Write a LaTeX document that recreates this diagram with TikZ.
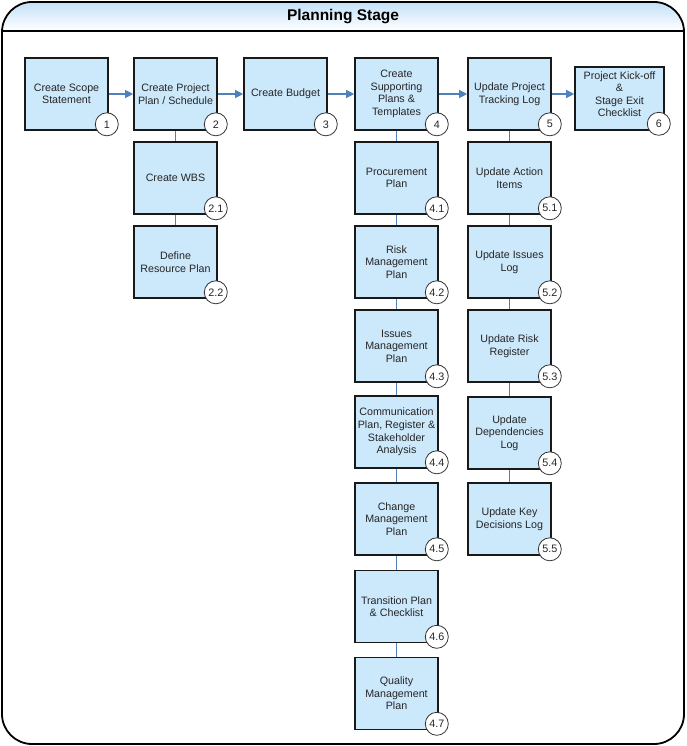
\documentclass[tikz,border=0pt]{standalone}
\usepackage{fontspec}
\setmainfont{Liberation Sans}
\usetikzlibrary{arrows.meta}
\definecolor{taskfill}{RGB}{204,232,251}
\definecolor{linkblue}{RGB}{79,129,189}
\definecolor{headblue}{RGB}{196,224,247}
\tikzset{task/.style = {draw = black!90, line width = 1.6pt, fill = taskfill, text = black!85,
    minimum width = 83pt, minimum height = 72pt, inner sep = 0, align = center,
    font = \fontsize{10.7}{12.6}\selectfont}}
\tikzset{num/.style = {circle, draw = black!80, line width = 0.8pt, fill = white, text = black!85,
    minimum size = 23pt, inner sep = 0, font = \fontsize{10.8}{12}\selectfont}}
\tikzset{link/.style = {draw = linkblue, line width = 1.2pt}}
\tikzset{flow/.style = {link, -{Triangle[length = 8pt, width = 8pt]}}}

\begin{document}
\begin{tikzpicture}[x=1pt, y=-1pt]
      \useasboundingbox (0, 0) rectangle (686, 746);
      \begin{scope}
        \clip [rounded corners = 30pt] (2, 2) rectangle (684, 744);
        \shade [top color = headblue, bottom color = white] (2, 2) rectangle (684, 31);
      \end{scope}
      \draw [line width = 1.6pt] (2, 31) -- (684, 31);
      \draw [line width = 1.8pt, rounded corners = 30pt] (2, 2) rectangle (684, 744);
      \node [font = \bfseries\fontsize{15.5}{18}\selectfont] (title) at (343, 16.5) {Planning Stage};
      % main row
      \node [task] (s1) at (66.5, 94) {Create Scope\\Statement};
      \node [task] (s2) at (175.5, 94) {Create Project\\Plan / Schedule};
      \node [task] (s3) at (285.5, 94) {Create Budget};
      \node [task] (s4) at (396.5, 94) {Create\\Supporting\\Plans \&\\Templates};
      \node [task] (s5) at (509.5, 94) {Update Project\\Tracking Log};
      \node [task, minimum width = 89pt, minimum height = 63pt] (s6) at (619.5, 98.5)
        {Project Kick-off\\\&\\Stage Exit\\Checklist\\[-4pt]};
      % sub steps
      \node [task] (s21) at (175.5, 178) {Create WBS};
      \node [task] (s22) at (175.5, 262) {Define\\Resource Plan};
      \node [task] (s41) at (396.5, 178) {Procurement\\Plan};
      \node [task] (s42) at (396.5, 262) {Risk\\Management\\Plan};
      \node [task] (s43) at (396.5, 346) {Issues\\Management\\Plan};
      \node [task] (s44) at (396.5, 432) {Communication\\Plan, Register \&\\Stakeholder\\Analysis};
      \node [task] (s45) at (396.5, 519) {Change\\Management\\Plan};
      \node [task] (s46) at (396.5, 606.5) {Transition Plan\\\& Checklist};
      \node [task] (s47) at (396.5, 693.5) {Quality\\Management\\Plan};
      \node [task] (s51) at (509.5, 178) {Update Action\\Items};
      \node [task] (s52) at (509.5, 262) {Update Issues\\Log};
      \node [task] (s53) at (509.5, 346) {Update Risk\\Register};
      \node [task] (s54) at (509.5, 433) {Update\\Dependencies\\Log};
      \node [task] (s55) at (509.5, 519) {Update Key\\Decisions Log};
      % connectors
      \foreach \a/\b in {s1/s2, s2/s3, s3/s4, s4/s5} {
        \draw [flow] (\a) -- (\b);
      }
      \draw [flow] (s5.east) -- (s5.east -| s6.west);
      \foreach \a/\b in {s2/s21, s21/s22, s4/s41, s41/s42, s42/s43, s43/s44, s44/s45, s45/s46, s46/s47,
                         s5/s51, s51/s52, s52/s53, s53/s54, s54/s55} {
        \draw [link] (\a.south) -- (\b.north);
      }
      % step numbers
      \foreach \s/\n in {s1/1, s2/2, s3/3, s4/4, s5/5, s21/2.1, s22/2.2, s41/4.1, s42/4.2, s43/4.3,
                         s44/4.4, s45/4.5, s46/4.6, s47/4.7, s51/5.1, s52/5.2, s53/5.3, s54/5.4, s55/5.5} {
        \node [num, xshift = -2pt, yshift = 6.5pt] (n\s) at (\s.south east) {\n};
      }
      \node [num, xshift = -6pt, yshift = 7pt] (ns6) at (s6.south east) {6};
    \end{tikzpicture}
\end{document}
